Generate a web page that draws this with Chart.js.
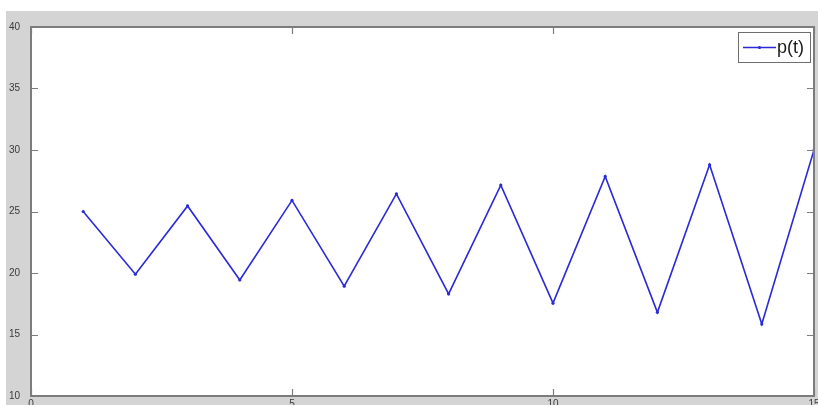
<!DOCTYPE html>
<html>
<head>
<meta charset="utf-8">
<script src="https://cdn.jsdelivr.net/npm/chart.js@4.4.1/dist/chart.umd.min.js"></script>
<style>
  body { margin: 0; background: #fff; }
  canvas { display: block; }
</style>
</head>
<body>
<canvas id="grafica" width="818" height="405"></canvas>
<script>
// valores
const tiempos = [1, 2, 3, 4, 5, 6, 7, 8, 9, 10, 11, 12, 13, 14, 15];
const valoresP = [25.0, 19.9, 25.45, 19.43, 25.9, 18.93, 26.43, 18.3, 27.15, 17.55, 27.85, 16.8, 28.8, 15.85, 30.0];
const ticksX = [0, 5, 10, 15];
const ticksY = [10, 15, 20, 25, 30, 35, 40];
const etiqueta = 'p(t)';

const azul = '#2a2ad8';
const gris = '#7c7c7c';
const fuente = '"Liberation Sans", Arial, sans-serif';

const marco = {
    id: 'marco',
    beforeDraw(chart) {
        const ctx = chart.ctx;
        const a = chart.chartArea;
        ctx.save();
        ctx.fillStyle = '#ffffff';
        ctx.fillRect(0, 0, chart.width, chart.height);
        ctx.fillStyle = '#d4d4d4';
        ctx.fillRect(6, 11, chart.width - 6, chart.height - 11);
        ctx.fillStyle = '#ffffff';
        ctx.fillRect(a.left, a.top, a.right - a.left, a.bottom - a.top);
        ctx.restore();
    },
    afterDatasetsDraw(chart) {
        const ctx = chart.ctx;
        const a = chart.chartArea;
        const sx = chart.scales.x;
        const sy = chart.scales.y;
        ctx.save();
        ctx.strokeStyle = gris;
        ctx.lineWidth = 2;
        ctx.strokeRect(a.left, a.top, a.right - a.left, a.bottom - a.top);

        // marcas hacia adentro
        ctx.lineWidth = 1.2;
        ctx.beginPath();
        ticksX.forEach(v => {
            const px = Math.round(sx.getPixelForValue(v)) + 0.5;
            ctx.moveTo(px, a.bottom); ctx.lineTo(px, a.bottom - 7);
            ctx.moveTo(px, a.top); ctx.lineTo(px, a.top + 7);
        });
        ticksY.forEach(v => {
            const py = Math.round(sy.getPixelForValue(v)) + 0.5;
            ctx.moveTo(a.left, py); ctx.lineTo(a.left + 7, py);
            ctx.moveTo(a.right, py); ctx.lineTo(a.right - 7, py);
        });
        ctx.stroke();

        // etiquetas del eje x (cortadas por el borde inferior)
        ctx.fillStyle = '#3a3a3a';
        ctx.font = '10px ' + fuente;
        ctx.textAlign = 'center';
        ctx.textBaseline = 'top';
        ticksX.forEach(v => {
            ctx.fillText(String(v), sx.getPixelForValue(v), a.bottom + 3);
        });

        // leyenda
        const lx = 738, ly = 32, lw = 72, lh = 30;
        ctx.fillStyle = '#ffffff';
        ctx.fillRect(lx, ly, lw, lh);
        ctx.strokeStyle = '#6e6e6e';
        ctx.lineWidth = 1;
        ctx.strokeRect(lx + 0.5, ly + 0.5, lw, lh);
        ctx.strokeStyle = azul;
        ctx.lineWidth = 1.5;
        ctx.beginPath();
        ctx.moveTo(lx + 5, ly + 15.5);
        ctx.lineTo(lx + 38, ly + 15.5);
        ctx.stroke();
        ctx.fillStyle = azul;
        ctx.beginPath();
        ctx.arc(lx + 21.5, ly + 15.5, 1.6, 0, Math.PI * 2);
        ctx.fill();
        ctx.fillStyle = '#1a1a1a';
        ctx.font = '18px ' + fuente;
        ctx.textBaseline = 'middle';
        ctx.textAlign = 'left';
        ctx.fillText(chart.data.datasets[0].label, lx + 39, ly + 16);
        ctx.restore();
    }
};

function sinRelleno(s) {
    s.paddingLeft = 0;
    s.paddingRight = 0;
    s.paddingTop = 0;
    s.paddingBottom = 0;
}

const ctx = document.getElementById('grafica').getContext('2d');
const chart = new Chart(ctx, {
    type: 'line',
    data: {
        datasets: [{
            label: etiqueta,
            data: tiempos.map((t, i) => ({ x: t, y: valoresP[i] })),
            borderColor: azul,
            backgroundColor: azul,
            borderWidth: 1.6,
            pointRadius: 1.6,
            pointBorderWidth: 0,
            tension: 0,
            fill: false
        }]
    },
    options: {
        responsive: false,
        animation: false,
        events: [],
        layout: { padding: { left: 6, top: 27, right: 2, bottom: 0 } },
        plugins: {
            legend: { display: false },
            tooltip: { enabled: false }
        },
        scales: {
            x: {
                type: 'linear',
                min: 0,
                max: 15,
                grid: { display: false },
                border: { display: false },
                afterBuildTicks: s => { s.ticks = ticksX.map(v => ({ value: v })); },
                afterFit: s => { s.height = 9; sinRelleno(s); },
                ticks: { display: false }
            },
            y: {
                min: 10,
                max: 40,
                grid: { display: false },
                border: { display: false },
                afterBuildTicks: s => { s.ticks = ticksY.map(v => ({ value: v })); },
                afterFit: s => { s.width = 25; sinRelleno(s); },
                ticks: {
                    padding: 3,
                    color: '#3a3a3a',
                    font: { family: fuente, size: 10 }
                }
            }
        }
    },
    plugins: [marco]
});
</script>
</body>
</html>
